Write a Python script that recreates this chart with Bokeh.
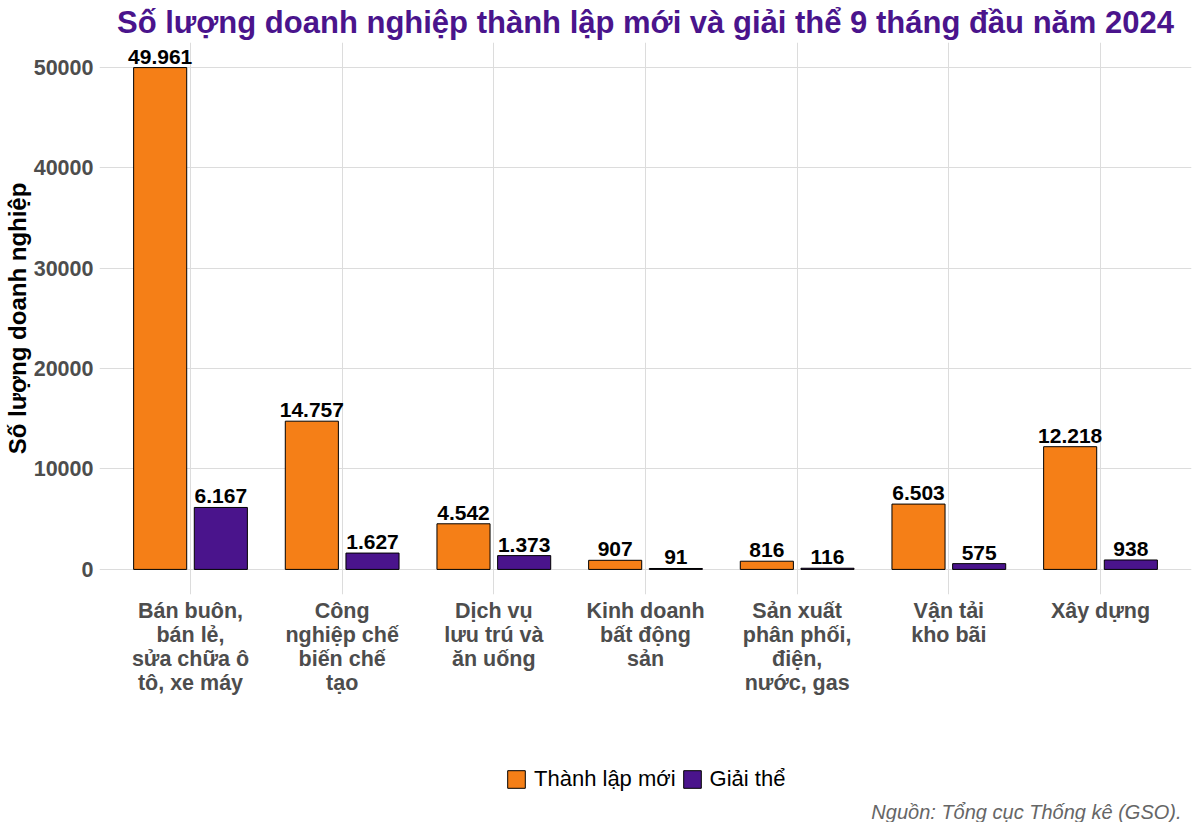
from bokeh.plotting import figure
from bokeh.layouts import column
from bokeh.models import (ColumnDataSource, Range1d, FixedTicker, Legend, LegendItem, Label)
from bokeh.transform import dodge
from bokeh.core.properties import value
from bokeh.embed import file_html
from bokeh.resources import INLINE

categories = [
    "Bán buôn,\nbán lẻ,\nsửa chữa ô\ntô, xe máy",
    "Công\nnghiệp chế\nbiến chế\ntạo",
    "Dịch vụ\nlưu trú và\năn uống",
    "Kinh doanh\nbất động\nsản",
    "Sản xuất\nphân phối,\nđiện,\nnước, gas",
    "Vận tải\nkho bãi",
    "Xây dựng",
]
thanh_lap_moi = [49961, 14757, 4542, 907, 816, 6503, 12218]
giai_the = [6167, 1627, 1373, 91, 116, 575, 938]
y_ticks = [0, 10000, 20000, 30000, 40000, 50000]

title_text = "Số lượng doanh nghiệp thành lập mới và giải thể 9 tháng đầu năm 2024"
y_title = "Số lượng doanh nghiệp"
caption = "Nguồn: Tổng cục Thống kê (GSO)."
series_names = ["Thành lập mới", "Giải thể"]

ORANGE = "#F57F17"
PURPLE = "#4A148C"
FONT = "Liberation Sans"

def fmt(v):
    return f"{v:,}".replace(",", ".")

xs = list(range(1, len(categories) + 1))
src = ColumnDataSource(dict(
    x=xs,
    new=thanh_lap_moi,
    dis=giai_the,
    new_lbl=[fmt(v) for v in thanh_lap_moi],
    dis_lbl=[fmt(v) for v in giai_the],
))

ymax = max(thanh_lap_moi)
FW = 1092
p = figure(
    frame_width=FW, frame_height=552,
    x_range=Range1d(0.4, 7.6),
    y_range=Range1d(-0.05 * ymax, ymax * 1.05),
    output_backend="svg", toolbar_location=None,
    min_border_left=10, min_border_right=1,
    min_border_top=10, min_border_bottom=110,
)
p.outline_line_color = None
p.background_fill_color = "white"

# title
p.title.text = title_text
p.title.align = "center"
p.title.text_font = FONT
p.title.text_font_style = "bold"
p.title.text_font_size = "31px"
p.title.text_color = PURPLE
p.title.standoff = 5

r1 = p.vbar(x=dodge("x", -0.2), top="new", bottom=0, width=0.35, source=src,
            fill_color=ORANGE, line_color="black", line_width=1)
r2 = p.vbar(x=dodge("x", 0.2), top="dis", bottom=0, width=0.35, source=src,
            fill_color=PURPLE, line_color="black", line_width=1)

for col, off in (("new", -0.2), ("dis", 0.2)):
    p.text(x=dodge("x", off), y=col, text=col + "_lbl", source=src,
           text_align="center", text_baseline="bottom", y_offset=-4,
           text_font=value(FONT), text_font_style="bold",
           text_font_size="21px", text_color="black")

# axes
p.xaxis.ticker = FixedTicker(ticks=xs)
p.xaxis.major_label_overrides = {i: c for i, c in zip(xs, categories)}
p.yaxis.ticker = FixedTicker(ticks=y_ticks)
p.yaxis.major_label_overrides = {t: str(t) for t in y_ticks}
for ax in (p.xaxis, p.yaxis):
    ax.axis_line_color = None
    ax.major_tick_line_color = None
    ax.minor_tick_line_color = None
    ax.major_label_text_font = FONT
    ax.major_label_text_font_style = "bold"
    ax.major_label_text_font_size = "21.5px"
    ax.major_label_text_color = "#4D4D4D"
p.xaxis.major_label_text_line_height = 1.0
p.xaxis.major_label_standoff = -2
p.yaxis.major_label_standoff = 0
p.yaxis.axis_label = y_title
p.yaxis.axis_label_text_font = FONT
p.yaxis.axis_label_text_font_style = "bold"
p.yaxis.axis_label_text_font_size = "24px"
p.yaxis.axis_label_text_color = "black"
p.yaxis.axis_label_standoff = 0

p.xgrid.ticker = FixedTicker(ticks=xs)
p.ygrid.ticker = FixedTicker(ticks=y_ticks)
for g in (p.xgrid, p.ygrid):
    g.grid_line_color = "#DCDCDC"
    g.grid_line_width = 1
    g.minor_grid_line_color = None

# bottom strip (its frame aligns with the main frame): legend + caption
W2, H2 = 1185, 118
q = figure(width=W2, height=H2, x_range=Range1d(0, W2), y_range=Range1d(0, H2),
           output_backend="svg", toolbar_location=None,
           min_border_left=0, min_border_right=0, min_border_top=0, min_border_bottom=0,
           x_axis_type=None, y_axis_type=None)
q.outline_line_color = None
q.grid.visible = False
# swatch renderers sit outside the visible range; they only feed the legend
dummy = ColumnDataSource(dict(x=[-100000], top=[-100000]))
k1 = q.vbar(x="x", top="top", bottom=-100001, width=1, source=dummy,
            fill_color=ORANGE, line_color="black", line_width=1)
k2 = q.vbar(x="x", top="top", bottom=-100001, width=1, source=dummy,
            fill_color=PURPLE, line_color="black", line_width=1)

legend = Legend(items=[LegendItem(label=series_names[0], renderers=[k1], index=0),
                       LegendItem(label=series_names[1], renderers=[k2], index=0)],
                location=(406, 30), orientation="horizontal",
                glyph_width=22, glyph_height=22, spacing=5, label_standoff=7,
                padding=0, margin=0, border_line_color=None,
                background_fill_alpha=0,
                label_text_font=FONT, label_text_font_size="22px",
                label_text_color="black")
q.add_layout(legend, "center")

q.add_layout(Label(x=1082, y=11, x_units="screen", y_units="screen",
                   text=caption, text_align="right", text_baseline="alphabetic",
                   text_font=FONT, text_font_style="italic", text_font_size="20px",
                   text_color="#666666"))

layout = column(p, q, spacing=0)
open("out.html", "w").write(file_html(layout, INLINE))
